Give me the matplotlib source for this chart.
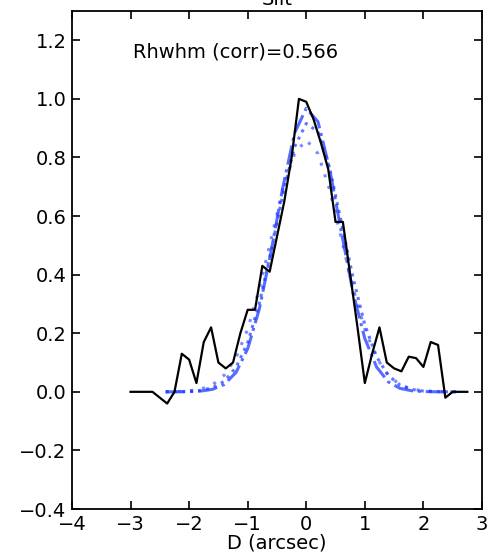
import matplotlib
matplotlib.use("Agg")
import matplotlib.pyplot as plt

# Observed slit profile (black)
obs_x = [-3.0, -2.875, -2.75, -2.625, -2.5, -2.375, -2.25, -2.125, -2.0, -1.875,
         -1.75, -1.625, -1.5, -1.375, -1.25, -1.125, -1.0, -0.875, -0.75, -0.625,
         -0.5, -0.375, -0.25, -0.125, 0.0, 0.125, 0.25, 0.375, 0.5, 0.625,
         0.75, 0.875, 1.0, 1.125, 1.25, 1.375, 1.5, 1.625, 1.75, 1.875,
         2.0, 2.125, 2.25, 2.375, 2.5, 2.625, 2.75]
obs_y = [0.0, 0.0, 0.0, 0.0, -0.02, -0.04, 0.0, 0.13, 0.11, 0.03,
         0.17, 0.22, 0.10, 0.08, 0.10, 0.20, 0.28, 0.28, 0.43, 0.41,
         0.53, 0.65, 0.80, 1.00, 0.99, 0.93, 0.85, 0.76, 0.58, 0.58,
         0.40, 0.22, 0.03, 0.13, 0.22, 0.10, 0.08, 0.07, 0.12, 0.115,
         0.085, 0.17, 0.16, -0.02, 0.0, 0.0, 0.0]

# Model profiles (blue)
mod_x = [-2.4, -2.2, -2.0, -1.8, -1.6, -1.4, -1.2, -1.0, -0.8, -0.6, -0.4, -0.2,
         0.0, 0.2, 0.4, 0.6, 0.8, 1.0, 1.2, 1.4, 1.6, 1.8, 2.0, 2.2, 2.4, 2.6]
mod_a = [0.0, 0.0001, 0.0006, 0.0025, 0.0086, 0.025, 0.066, 0.147, 0.284, 0.479,
         0.698, 0.883, 0.968, 0.922, 0.760, 0.545, 0.338, 0.182, 0.085, 0.034,
         0.012, 0.0036, 0.001, 0.0002, 0.0, 0.0]
mod_b = [0.0001, 0.0004, 0.0014, 0.0048, 0.014, 0.036, 0.083, 0.168, 0.303, 0.480,
         0.673, 0.836, 0.916, 0.888, 0.762, 0.578, 0.388, 0.229, 0.120, 0.056,
         0.023, 0.0083, 0.0026, 0.0008, 0.0002, 0.0]
mod_c = [0.0003, 0.001, 0.0033, 0.0095, 0.024, 0.057, 0.116, 0.214, 0.353, 0.522,
         0.689, 0.813, 0.860, 0.813, 0.689, 0.522, 0.353, 0.214, 0.116, 0.057,
         0.024, 0.0095, 0.0033, 0.001, 0.0003, 0.0]

xticks = [-4, -3, -2, -1, 0, 1, 2, 3]
yticks = [-0.4, -0.2, 0.0, 0.2, 0.4, 0.6, 0.8, 1.0, 1.2]

fs = 14

fig = plt.figure(figsize=(4.91, 5.58), dpi=100)
ax = fig.add_axes([0.1466, 0.0878, 0.835, 0.8925])

blue = '#1f3cff'
ax.plot(mod_x, mod_a, color=blue, lw=2.2, ls='-.', alpha=0.75)
ax.plot(mod_x, mod_b, color=blue, lw=2.2, ls=':', alpha=0.7)
ax.plot(mod_x, mod_c, color=blue, lw=2.2, ls=(0, (1, 3)), alpha=0.6)
ax.plot(obs_x, obs_y, color='black', lw=1.6)

ax.set_xlim(-4, 3)
ax.set_ylim(-0.4, 1.3)
ax.set_xticks(xticks)
ax.set_yticks(yticks)
ax.tick_params(direction='in', top=True, right=True, length=6, width=1.2,
               labelsize=fs, pad=4)
for s in ax.spines.values():
    s.set_linewidth(1.3)

ax.text(-2.95, 1.16, 'Rhwhm (corr)=0.566', fontsize=fs, ha='left', va='center')
ax.set_xlabel('D (arcsec)', fontsize=fs, labelpad=0)
ax.set_title('Slit', fontsize=fs, pad=4)

fig.savefig('out.png', dpi=100)
